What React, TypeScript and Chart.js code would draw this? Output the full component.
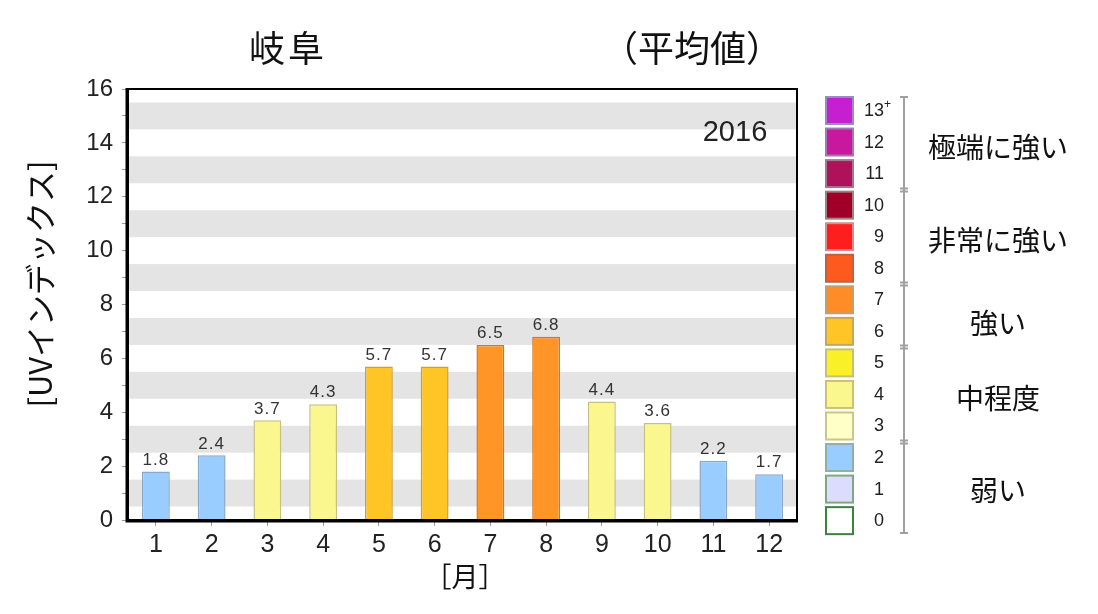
import React, { useEffect, useRef } from "react";
import { Chart, registerables } from "chart.js";

Chart.register(...registerables);

const months = ["1", "2", "3", "4", "5", "6", "7", "8", "9", "10", "11", "12"];
const uvValues = [1.8, 2.4, 3.7, 4.3, 5.7, 5.7, 6.5, 6.8, 4.4, 3.6, 2.2, 1.7];
const legendLabels = ["13", "12", "11", "10", "9", "8", "7", "6", "5", "4", "3", "2", "1", "0"];
const legendFill = ["#C61FD0", "#C8189E", "#B0125A", "#A00028", "#FF1E1E", "#FF5A1E", "#FF8C26", "#FFC526", "#FAF028", "#FAF78F", "#FFFFC8", "#99CCFF", "#DCDCFF", "#FFFFFF"];
const legendBorder = ["#9a8cc0", "#a07ab0", "#a07a90", "#a08080", "#d09090", "#c06040", "#c0a070", "#c0a860", "#c8c070", "#d0c070", "#c8c888", "#90b0a0", "#80a880", "#408040"];
const groupLabels = ["極端に強い", "非常に強い", "強い", "中程度", "弱い"];
const groupCentersY = [147, 240, 323, 398, 490];
const titleLeft = "岐阜";
const titleRight = "（平均値）";
const yearLabel = "2016";
const yTitle = "[UVインデックス]";
const xTitle = "［月］";

const barFill: Record<number, string> = { 2: "#99CCFF", 4: "#FAF78F", 6: "#FFC526", 7: "#FF9526" };
const barBorder: Record<number, string> = { 2: "#8aa8c8", 4: "#c8c080", 6: "#c8a040", 7: "#c87a30" };

const NUM_FONT = "'Liberation Sans', Arial, sans-serif";
const JP_FONT = "'Noto Sans CJK JP', sans-serif";

export default function App() {
  const ref = useRef<HTMLCanvasElement>(null);
  useEffect(() => {
    document.body.style.margin = "0";
    const canvas = ref.current!;
    const decor = {
      id: "decor",
      beforeDatasetsDraw(chart: any) {
        const { ctx, chartArea } = chart;
        const y = chart.scales.y;
        ctx.save();
        ctx.fillStyle = "#E4E4E4";
        for (let v = 0.5; v < 16; v += 2) {
          const t = y.getPixelForValue(v + 1);
          const b = y.getPixelForValue(v);
          ctx.fillRect(chartArea.left, t, chartArea.right - chartArea.left, b - t);
        }
        ctx.fillStyle = "#222";
        ctx.font = `29px ${NUM_FONT}`;
        ctx.textAlign = "center";
        ctx.textBaseline = "middle";
        ctx.fillText(yearLabel, 735, 133);
        ctx.restore();
      },
      afterDatasetsDraw(chart: any) {
        const { ctx, chartArea } = chart;
        const meta = chart.getDatasetMeta(0);
        ctx.save();
        ctx.fillStyle = "#333";
        ctx.font = `17px ${NUM_FONT}`;
        (ctx as any).letterSpacing = "1px";
        ctx.textAlign = "center";
        ctx.textBaseline = "bottom";
        meta.data.forEach((el: any, i: number) => {
          ctx.fillText(uvValues[i].toFixed(1), el.x, el.y - 3);
        });
        (ctx as any).letterSpacing = "0px";
        // frame
        ctx.strokeStyle = "#000";
        ctx.lineWidth = 2;
        ctx.strokeRect(chartArea.left, chartArea.top, chartArea.right - chartArea.left, chartArea.bottom - chartArea.top);
        ctx.lineWidth = 3;
        ctx.beginPath();
        ctx.moveTo(chartArea.left - 1, chartArea.top - 1);
        ctx.lineTo(chartArea.left - 1, chartArea.bottom + 1);
        ctx.lineTo(chartArea.right + 1, chartArea.bottom + 1);
        ctx.stroke();
        ctx.restore();
      },
      afterDraw(chart: any) {
        const ctx = chart.ctx;
        ctx.save();
        // titles
        ctx.fillStyle = "#111";
        ctx.textAlign = "center";
        ctx.textBaseline = "middle";
        ctx.font = `36px ${JP_FONT}`;
        (ctx as any).letterSpacing = "3px";
        ctx.fillText(titleLeft, 288, 48);
        (ctx as any).letterSpacing = "0px";
        ctx.fillText(titleRight, 692, 48);
        ctx.font = `27px ${JP_FONT}`;
        ctx.fillText(xTitle, 465, 577);
        ctx.save();
        ctx.translate(40, 284);
        ctx.rotate(-Math.PI / 2);
        ctx.font = `31px ${JP_FONT}`;
        ctx.fillText(yTitle, 0, 0);
        ctx.restore();
        // legend
        const top0 = 97;
        const pitch = 31.55;
        for (let i = 0; i < legendLabels.length; i++) {
          const yy = top0 + i * pitch;
          ctx.fillStyle = legendFill[i];
          ctx.fillRect(826, yy, 27, 27);
          ctx.strokeStyle = legendBorder[i];
          ctx.lineWidth = 2;
          ctx.strokeRect(826, yy, 27, 27);
          ctx.fillStyle = "#222";
          ctx.font = `18px ${NUM_FONT}`;
          ctx.textAlign = "right";
          ctx.textBaseline = "middle";
          ctx.fillText(legendLabels[i], 884, yy + 14);
          if (i === 0) {
            ctx.font = `12px ${NUM_FONT}`;
            ctx.textAlign = "left";
            ctx.fillText("+", 884, yy + 8);
          }
        }
        // bracket
        const bx = 904;
        ctx.strokeStyle = "#A0A0A0";
        ctx.lineWidth = 2;
        ctx.beginPath();
        ctx.moveTo(bx, 97);
        ctx.lineTo(bx, 533);
        ctx.stroke();
        const tickAt = (y: number) => {
          ctx.beginPath();
          ctx.moveTo(bx - 4, y);
          ctx.lineTo(bx + 4, y);
          ctx.stroke();
        };
        tickAt(97);
        tickAt(533);
        [190, 284, 347, 442].forEach((y) => {
          tickAt(y - 1.5);
          tickAt(y + 1.5);
        });
        ctx.fillStyle = "#111";
        ctx.font = `28px ${JP_FONT}`;
        ctx.textAlign = "center";
        ctx.textBaseline = "middle";
        groupLabels.forEach((g, k) => {
          ctx.fillText(g, 998, groupCentersY[k]);
        });
        ctx.restore();
      },
    };

    const chart = new Chart(canvas, {
      type: "bar",
      data: {
        labels: months,
        datasets: [
          {
            data: uvValues,
            backgroundColor: uvValues.map((v) => barFill[Math.round(v)]),
            borderColor: uvValues.map((v) => barBorder[Math.round(v)]),
            borderWidth: 1.5,
            borderSkipped: "bottom",
            barPercentage: 0.5,
            categoryPercentage: 1,
          },
        ],
      },
      options: {
        responsive: false,
        animation: false,
        layout: { padding: { left: 78, top: 89, right: 301, bottom: 44 } },
        plugins: { legend: { display: false }, tooltip: { enabled: false }, title: { display: false } },
        scales: {
          x: {
            afterFit: (s: any) => { s.height = 50; },
            grid: { display: true, drawOnChartArea: false, tickLength: 6, color: "#999", offset: false },
            border: { display: false },
            ticks: { color: "#222", font: { size: 25, family: NUM_FONT }, padding: 4 },
          },
          y: {
            min: 0,
            max: 16,
            afterFit: (s: any) => { s.width = 50; },
            grid: { display: true, drawOnChartArea: false, tickLength: 6, color: "#999" },
            border: { display: false },
            ticks: {
              stepSize: 1,
              autoSkip: false,
              color: "#222",
              font: { size: 24, family: NUM_FONT },
              padding: 9,
              callback: (v: any) => (Number(v) % 2 === 0 ? String(v) : ""),
            },
          },
        },
      },
      plugins: [decor],
    });
    return () => chart.destroy();
  }, []);
  return <canvas ref={ref} width={1098} height={614} style={{ display: "block" }} />;
}
